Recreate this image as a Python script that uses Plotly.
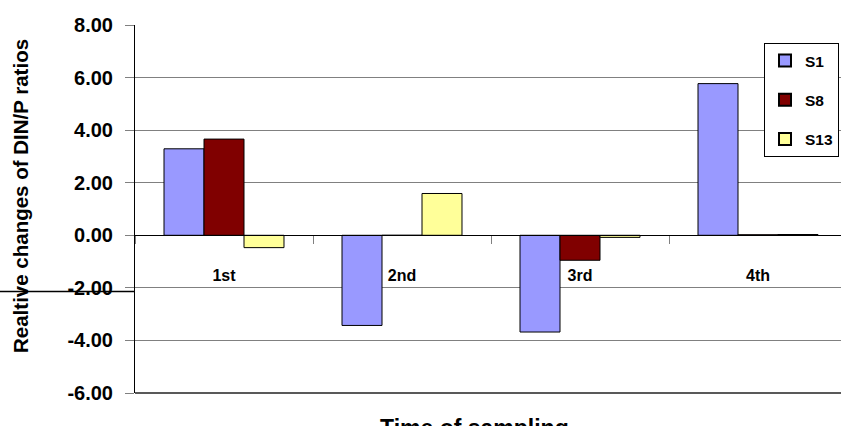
import plotly.graph_objects as go

# Sampling rounds and relative changes of DIN/P ratios per station
rounds = ["1st", "2nd", "3rd", "4th"]
s1 = [3.29, -3.43, -3.68, 5.77]
s8 = [3.66, 0.0, -0.95, 0.02]
s13 = [-0.47, 1.59, -0.08, 0.03]

y_ticks = [8, 6, 4, 2, 0, -2, -4, -6]
y_tick_labels = [f"{v:.2f}" for v in y_ticks]  # plain hyphen for negatives

series = [("S1", s1, "#9999FF"), ("S8", s8, "#800000"), ("S13", s13, "#FFFF99")]

FONT = "Arial, Liberation Sans, sans-serif"
Y_MIN, Y_MAX = -6, 8

fig = go.Figure()
for name, vals, color in series:
    fig.add_trace(go.Bar(
        x=rounds, y=vals, name=name, legendgroup=name,
        marker=dict(color=color, line=dict(color="#000000", width=1)),
    ))

W, H = 841, 426
ML, MR, MT, MB = 135, 0, 25, 33
plot_w = W - ML - MR
plot_h = H - MT - MB
cat_px = 178  # width of one category band in pixels

fig.update_layout(
    width=W, height=H,
    margin=dict(l=ML, r=MR, t=MT, b=MB, pad=0),
    paper_bgcolor="white", plot_bgcolor="white",
    barmode="group", bargap=0.326, bargroupgap=0,
    font=dict(family=FONT, color="black"),
    showlegend=True,
    legend=dict(
        x=(839 - ML) / plot_w, xanchor="right",
        y=(H - MB - 43) / plot_h, yanchor="top",
        bgcolor="white", bordercolor="black", borderwidth=1,
        font=dict(family=FONT, size=15.5, color="black", weight="bold"),
        tracegroupgap=16, itemsizing="constant",
    ),
    xaxis=dict(
        type="category",
        range=[-0.5, -0.5 + plot_w / cat_px],
        anchor="free", position=(0 - Y_MIN) / (Y_MAX - Y_MIN),
        showline=True, linecolor="black", linewidth=1,
        ticks="outside", tickson="boundaries", ticklen=8,
        tickcolor="#808080", tickwidth=1,
        ticklabelstandoff=26,
        tickfont=dict(family=FONT, size=16, color="black", weight="bold"),
        showgrid=False, zeroline=False, fixedrange=True,
    ),
    yaxis=dict(
        range=[Y_MIN, Y_MAX],
        tickvals=y_ticks, ticktext=y_tick_labels,
        showline=True, linecolor="black", linewidth=1,
        ticks="outside", ticklen=9, tickcolor="#808080", tickwidth=1,
        ticklabelstandoff=8,
        tickfont=dict(family=FONT, size=20, color="black", weight="bold"),
        showgrid=True, gridcolor="#808080", gridwidth=1,
        zeroline=True, zerolinecolor="black", zerolinewidth=1,
        fixedrange=True,
    ),
    annotations=[
        dict(
            text="Realtive changes of DIN/P ratios", textangle=-90,
            xref="paper", yref="paper",
            x=(20 - ML) / plot_w, xanchor="center",
            y=(H - MB - 196) / plot_h, yanchor="middle",
            showarrow=False,
            font=dict(family=FONT, size=20.5, color="black", weight="bold"),
        ),
        dict(
            text="Time of sampling",
            xref="paper", yref="paper",
            x=(474 - ML) / plot_w, xanchor="center",
            y=(H - MB - 413) / plot_h, yanchor="top",
            showarrow=False,
            font=dict(family=FONT, size=23, color="black", weight="bold"),
        ),
    ],
    shapes=[
        # dark bottom border of the plot area
        dict(type="line", xref="paper", yref="paper", x0=0, x1=1, y0=0, y1=0,
             line=dict(color="#222222", width=1.5)),
        # stray rule to the left of the value axis
        dict(type="line", xref="paper", yref="y", x0=-ML / plot_w, x1=0,
             y0=-2.14, y1=-2.14, line=dict(color="black", width=1.5)),
    ],
)

fig.write_html("out.html")
